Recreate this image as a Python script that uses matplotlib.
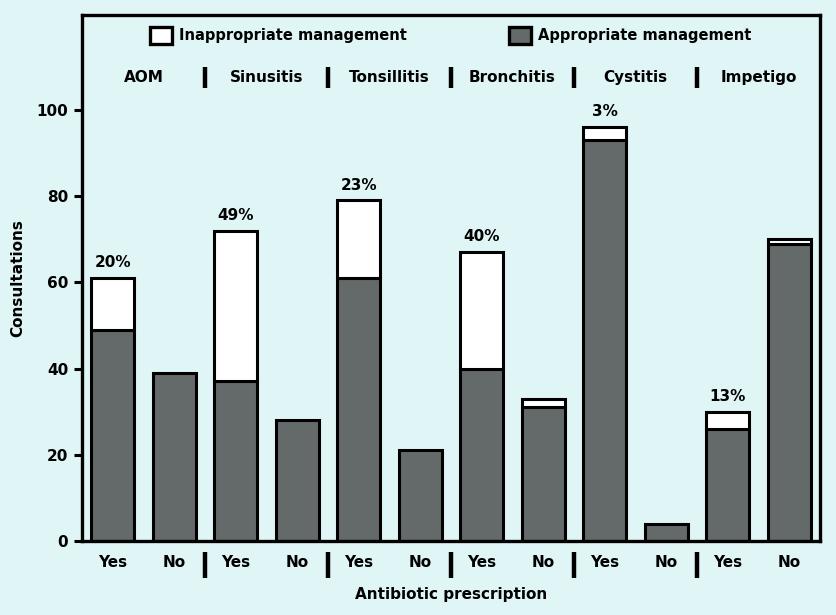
import numpy as np
import matplotlib
matplotlib.use("Agg")
import matplotlib.pyplot as plt
from matplotlib.patches import Patch

# Data
conditions = ['AOM', 'Sinusitis', 'Tonsillitis', 'Bronchitis', 'Cystitis', 'Impetigo']
prescribed = ['Yes', 'No'] * 6
appropriate = [49, 39, 37, 28, 61, 21, 40, 31, 93, 4, 26, 69]
inappropriate = [12, 0, 35, 0, 18, 0, 27, 2, 3, 0, 4, 1]
pct_labels = ['20%', '', '49%', '', '23%', '', '40%', '', '3%', '', '13%', '']

bg = '#e0f6f6'
gray = '#646a6a'

plt.rcParams['font.family'] = ['DejaVu Sans']
plt.rcParams['font.weight'] = 'bold'

fig = plt.figure(figsize=(8.37, 6.15), dpi=100, facecolor=bg)
ax = fig.add_axes([82/837, 1-541/615, 738/837, 526/615])
ax.set_facecolor(bg)

x = np.arange(len(appropriate))
approp = np.array(appropriate)
inapp = np.array(inappropriate)

ax.bar(x, approp, width=0.7, color=gray, edgecolor='black', linewidth=2.2, zorder=2)
mask = inapp > 0
ax.bar(x[mask], inapp[mask], bottom=approp[mask], width=0.7, color='white',
       edgecolor='black', linewidth=2.2, zorder=2)

for xi, tot, lab in zip(x, approp + inapp, pct_labels):
    if lab:
        ax.text(xi, tot + 1.8, lab, ha='center', va='bottom', fontsize=11, fontweight='bold')

ax.set_xlim(-0.5, 11.5)
ax.set_ylim(0, 122)
ax.set_yticks([0, 20, 40, 60, 80, 100])
ax.set_xticks(x)
ax.set_xticklabels(prescribed)
ax.tick_params(axis='x', length=0, pad=10, labelsize=11)
ax.tick_params(axis='y', length=6, width=2.2, labelsize=11, pad=4)
for lab in ax.get_xticklabels() + ax.get_yticklabels():
    lab.set_fontweight('bold')
for sp in ax.spines.values():
    sp.set_linewidth(2.4)

ax.set_ylabel('Consultations', fontsize=11, fontweight='bold', labelpad=8)
ax.set_xlabel('Antibiotic prescription', fontsize=11, fontweight='bold', labelpad=12)

# condition names along the top, with separators
for i, name in enumerate(conditions):
    ax.text(2*i + 0.5, 107.5, name, ha='center', va='center', fontsize=11, fontweight='bold')
for i in range(1, 6):
    sx = 2*i - 0.5
    ax.plot([sx, sx], [105, 110], color='black', lw=3.2, solid_capstyle='butt', zorder=3)
    ax.plot([sx, sx], [-2.5, -8.5], color='black', lw=3.2, solid_capstyle='butt',
            clip_on=False, zorder=3)

handles = [Patch(facecolor='white', edgecolor='black', linewidth=2.4, label='Inappropriate management'),
           Patch(facecolor=gray, edgecolor='black', linewidth=2.4, label='Appropriate management')]
ax.legend(handles=handles, loc='upper center', bbox_to_anchor=(0.5, 1.0), ncol=2,
          frameon=False, fontsize=10.5, handlelength=1.5, handleheight=1.5,
          columnspacing=7, handletextpad=0.5, borderaxespad=0.4)

fig.savefig('out.png', dpi=100, facecolor=bg)
